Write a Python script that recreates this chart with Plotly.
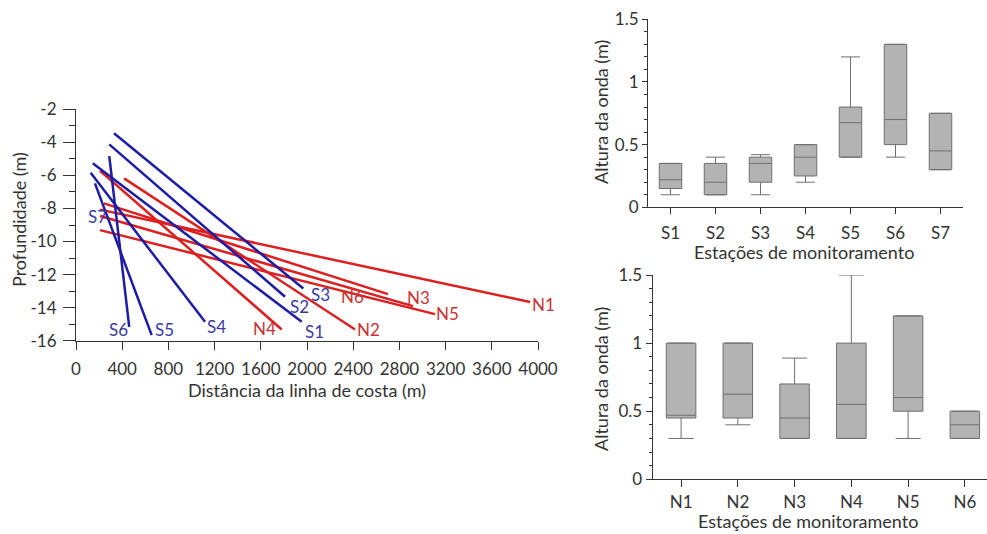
import plotly.graph_objects as go

# ---------------- Data: transects (left panel) ----------------
s_names = ["S1", "S2", "S3", "S4", "S5", "S6"]
s_x_start = [145, 288, 329, 127, 164, 288]
s_d_start = [-5.27, -4.12, -3.45, -5.84, -6.48, -4.83]
s_x_end = [1954, 1810, 1968, 1117, 655, 461]
s_d_end = [-14.86, -13.34, -12.84, -14.86, -15.66, -15.16]

n_names = ["N1", "N2", "N3", "N4", "N5", "N6"]
n_x_start = [208, 416, 208, 208, 208, 242]
n_d_start = [-8.07, -6.18, -8.46, -5.72, -9.31, -7.69]
n_x_end = [3931, 2416, 2918, 1781, 3108, 2701]
n_d_end = [-13.66, -15.32, -13.91, -15.32, -14.39, -13.18]

s7_name = "S7"
s7_x = 182
s7_d = -8.5

depth_ticks = [-16, -14, -12, -10, -8, -6, -4, -2]
depth_labels = ["-16", "-14", "-12", "-10", "-8", "-6", "-4", "-2"]
dist_ticks = [0, 400, 800, 1200, 1600, 2000, 2400, 2800, 3200, 3600, 4000]

# ---------------- Data: box plots ----------------
s_box_names = ["S1", "S2", "S3", "S4", "S5", "S6", "S7"]
s_min = [0.10, 0.10, 0.10, 0.20, 0.40, 0.40, 0.30]
s_q1 = [0.15, 0.10, 0.20, 0.25, 0.40, 0.50, 0.30]
s_med = [0.22, 0.20, 0.35, 0.40, 0.675, 0.70, 0.45]
s_q3 = [0.35, 0.35, 0.40, 0.50, 0.80, 1.30, 0.75]
s_max = [0.35, 0.40, 0.42, 0.50, 1.20, 1.30, 0.75]

n_box_names = ["N1", "N2", "N3", "N4", "N5", "N6"]
n_min = [0.30, 0.40, 0.30, 0.30, 0.30, 0.30]
n_q1 = [0.45, 0.45, 0.30, 0.30, 0.50, 0.30]
n_med = [0.47, 0.625, 0.45, 0.55, 0.60, 0.40]
n_q3 = [1.00, 1.00, 0.70, 1.00, 1.20, 0.50]
n_max = [1.00, 1.00, 0.89, 1.50, 1.20, 0.50]

wave_ticks = [0, 0.5, 1, 1.5]
wave_labels = ["0", "0.5", "1", "1.5"]

# ---------------- Styles ----------------
W, H = 987, 534
FONT = "Lato, 'Liberation Sans', Arial, sans-serif"
TXT = "#333333"
AX = "#333333"
BLUE = "#1c1ca6"
RED = "#dd1f1f"
BLUE_TXT = "#3b3ba3"
RED_TXT = "#c83232"
TICK_SIZE = 17
TITLE_SIZE = 18
LABEL_SIZE = 17

# label offsets (px) relative to line end: (dx right, dy down)
label_off = {
    "S1": (13, 10), "S2": (14, 10), "S3": (17, 6), "S4": (11, 5),
    "S5": (13, -6), "S6": (-11, 3),
    "N1": (13, 2), "N2": (13, 0), "N3": (5, -9), "N4": (-17, -1),
    "N5": (13, -1), "N6": (-35, 2),
}

fig = go.Figure()

for i, nm in enumerate(n_names):
    fig.add_trace(go.Scatter(
        x=[n_x_start[i], n_x_end[i]], y=[n_d_start[i], n_d_end[i]],
        mode="lines", line=dict(color=RED, width=2.5), showlegend=False,
        xaxis="x", yaxis="y", hoverinfo="skip"))
for i, nm in enumerate(s_names):
    fig.add_trace(go.Scatter(
        x=[s_x_start[i], s_x_end[i]], y=[s_d_start[i], s_d_end[i]],
        mode="lines", line=dict(color=BLUE, width=2.5), showlegend=False,
        xaxis="x", yaxis="y", hoverinfo="skip"))

annotations = []
for i, nm in enumerate(s_names):
    dx, dy = label_off[nm]
    annotations.append(dict(x=s_x_end[i], y=s_d_end[i], xref="x", yref="y",
                            text=nm, showarrow=False, xshift=dx, yshift=-dy,
                            xanchor="center", yanchor="middle",
                            font=dict(family=FONT, size=LABEL_SIZE, color=BLUE_TXT)))
for i, nm in enumerate(n_names):
    dx, dy = label_off[nm]
    annotations.append(dict(x=n_x_end[i], y=n_d_end[i], xref="x", yref="y",
                            text=nm, showarrow=False, xshift=dx, yshift=-dy,
                            xanchor="center", yanchor="middle",
                            font=dict(family=FONT, size=LABEL_SIZE, color=RED_TXT)))
annotations.append(dict(x=s7_x, y=s7_d, xref="x", yref="y", text=s7_name,
                        showarrow=False, xanchor="center", yanchor="middle",
                        font=dict(family=FONT, size=LABEL_SIZE, color=BLUE_TXT)))

# box plots
BOX_FILL = "#b3b3b3"
BOX_LINE = "#6f6f6f"
fig.add_trace(go.Box(
    x=s_box_names, q1=s_q1, median=s_med, q3=s_q3,
    lowerfence=s_min, upperfence=s_max, boxpoints=False,
    fillcolor=BOX_FILL, line=dict(color=BOX_LINE, width=1),
    width=0.5, whiskerwidth=0.85, showlegend=False,
    xaxis="x2", yaxis="y2"))
fig.add_trace(go.Box(
    x=n_box_names, q1=n_q1, median=n_med, q3=n_q3,
    lowerfence=n_min, upperfence=n_max, boxpoints=False,
    fillcolor=BOX_FILL, line=dict(color=BOX_LINE, width=1),
    width=0.52, whiskerwidth=0.85, showlegend=False,
    xaxis="x3", yaxis="y3"))


def px_x(p):
    return p / W


def px_y(p):
    return (H - p) / H


tickfont = dict(family=FONT, size=TICK_SIZE, color=TXT)
axis_common = dict(showline=True, linecolor=AX, linewidth=1.2,
                   ticks="outside", tickcolor=AX,
                   showgrid=False, zeroline=False, tickfont=tickfont,
                   automargin=False)

fig.update_layout(
    width=W, height=H,
    margin=dict(l=0, r=0, t=0, b=0, pad=0),
    paper_bgcolor="white", plot_bgcolor="white",
    font=dict(family=FONT, color=TXT),
    xaxis=dict(domain=[px_x(76), px_x(538)], range=[0, 4000],
               tickvals=dist_ticks, anchor="y", ticklen=8,
               ticklabelstandoff=5, **axis_common),
    yaxis=dict(domain=[px_y(340.7), px_y(109.3)], range=[-16, -2],
               tickvals=depth_ticks, ticktext=depth_labels, anchor="x",
               ticklen=12, ticklabelstandoff=3,
               minor=dict(dtick=1, ticks="outside", ticklen=6, tickcolor=AX),
               **axis_common),
    xaxis2=dict(domain=[px_x(648), px_x(963)], range=[-0.5, 6.5], type="category",
                anchor="y2", ticklen=6, ticklabelstandoff=4, **axis_common),
    yaxis2=dict(domain=[px_y(207.3), px_y(19.3)], range=[0, 1.5],
                tickvals=wave_ticks, ticktext=wave_labels, anchor="x2",
                ticklen=5,
                minor=dict(dtick=0.1, ticks="outside", ticklen=3, tickcolor=AX),
                **axis_common),
    xaxis3=dict(domain=[px_x(652.7), 1.0], range=[-0.5, 5.39], type="category",
                anchor="y3", ticklen=7, ticklabelstandoff=0, **axis_common),
    yaxis3=dict(domain=[px_y(479.3), px_y(275)], range=[0, 1.5],
                tickvals=wave_ticks, ticktext=wave_labels, anchor="x3",
                ticklen=6,
                minor=dict(dtick=0.1, ticks="outside", ticklen=3, tickcolor=AX),
                **axis_common),
)

title_font = dict(family=FONT, size=TITLE_SIZE, color=TXT)
titles = [
    ("Profundidade (m)", 19, 220, -90),
    ("Distância da linha de costa (m)", 307, 390, 0),
    ("Altura da onda (m)", 601, 112, -90),
    ("Estações de monitoramento", 804, 252, 0),
    ("Altura da onda (m)", 601, 379, -90),
    ("Estações de monitoramento", 808, 521, 0),
]
for text, tx, ty, ang in titles:
    annotations.append(dict(text=text, x=px_x(tx), y=px_y(ty), xref="paper", yref="paper",
                            textangle=ang, showarrow=False, xanchor="center",
                            yanchor="middle", font=title_font))
fig.update_layout(annotations=annotations)

fig.write_html("out.html",
               config={"displayModeBar": False},
               post_script="document.body.style.margin='0';"
                           "document.body.style.overflow='hidden';")
